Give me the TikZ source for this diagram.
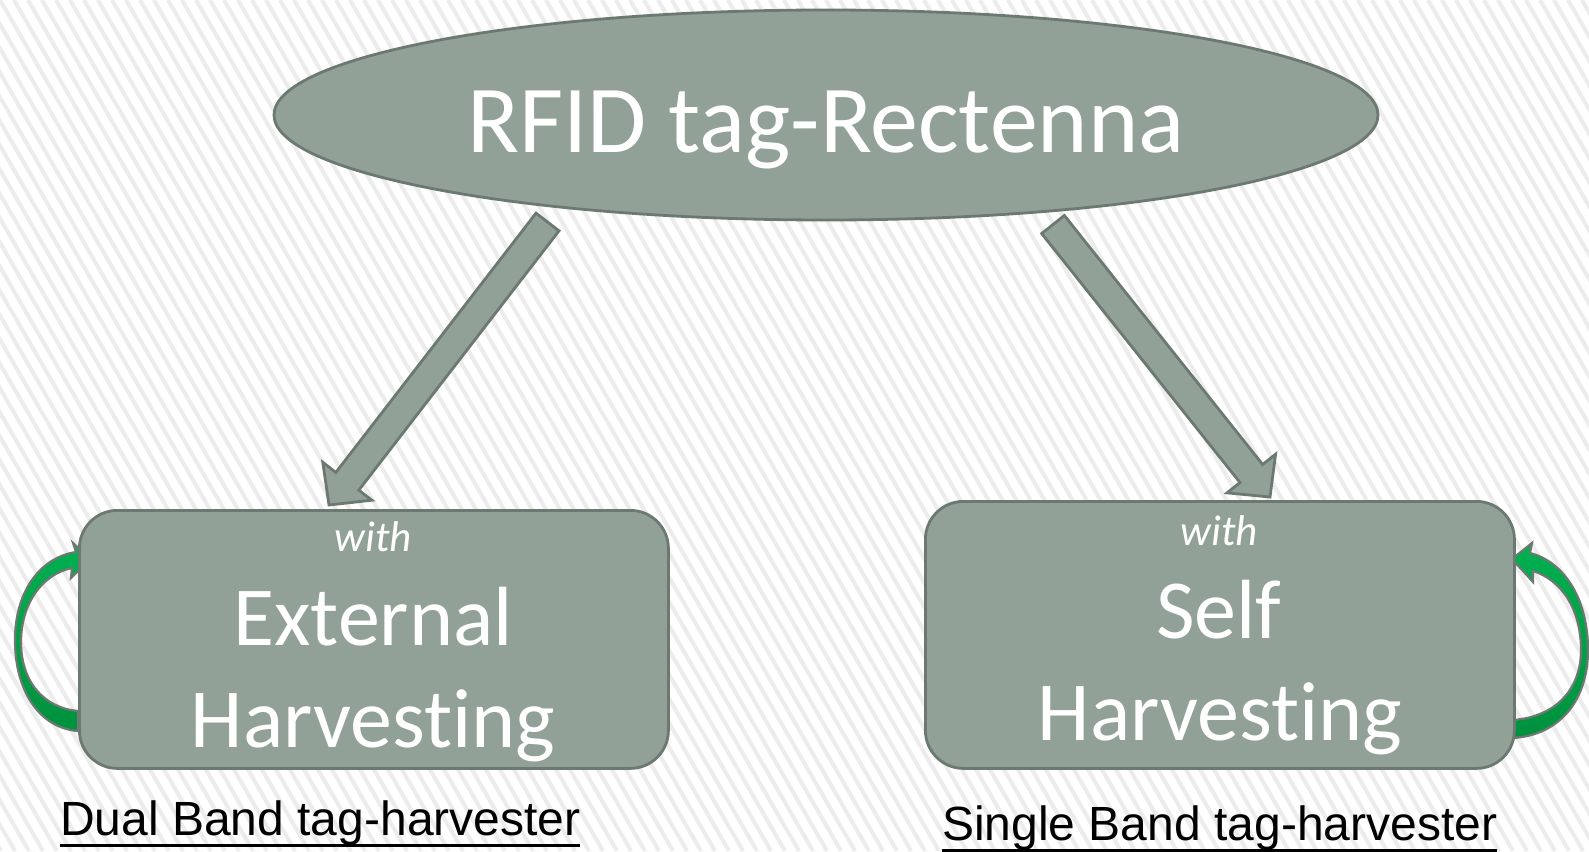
\documentclass[tikz,border=0pt]{standalone}
\usepackage{fontspec}
\setmainfont{Carlito}[Ligatures={NoCommon}]
\newfontfamily\arialf{Liberation Sans}
\usetikzlibrary{shapes.geometric,calc}
\definecolor{boxfill}{RGB}{146,161,151}
\definecolor{boxline}{RGB}{108,121,112}
\definecolor{stripecol}{RGB}{236,236,236}
\definecolor{glight}{RGB}{0,176,80}
\definecolor{gdark}{RGB}{0,145,62}
\newcommand\ulabel[1]{\setbox0\hbox{#1}\rlap{\rule[-11.5pt]{\wd0}{2.8pt}}\box0}
\newcommand\blockarr[2]{%
  \coordinate (hb) at ($(#2)!30pt!(#1)$);
  \draw[shapebox]
    ($(#1)!14.5pt!90:(#2)$) -- ($(hb)!14.5pt!90:(#2)$) -- ($(hb)!31pt!90:(#2)$)
    -- (#2) -- ($(hb)!31pt!-90:(#2)$) -- ($(hb)!14.5pt!-90:(#2)$)
    -- ($(#1)!14.5pt!-90:(#2)$) -- cycle;}
\begin{document}
\begin{tikzpicture}[x=1pt,y=-1pt,
  shapebox/.style={draw=boxline, fill=boxfill, line width=2.8pt},
  roundbox/.style={shapebox, rounded corners=38pt, anchor=north west, inner sep=0pt},
  curvearrow/.style={draw=boxline, line width=2.2pt, top color=glight, bottom color=gdark},
  wtxt/.style={text=white, inner sep=0pt, anchor=base},
  bigtxt/.style={wtxt, font=\fontsize{84}{100}\selectfont},
  withtxt/.style={wtxt, font=\fontsize{43}{50}\selectfont\itshape},
  labtxt/.style={inner sep=0pt, anchor=base west, text=black, font=\arialf\fontsize{48}{56}\selectfont}
]
\useasboundingbox (0,0) rectangle (1589,851);
\fill[white] (0,0) rectangle (1589,851);
\begin{scope}
  \clip (0,0) rectangle (1589,851);
  \foreach \i in {-38,...,116} \draw[stripecol, line width=4pt] (\i*14,0) -- ++(491,851);
\end{scope}

% curved green arrows (behind the boxes)
\draw[curvearrow] (78,731) .. controls (40,728) and (15,692) .. (15,640)
  .. controls (15,594) and (38,558) .. (76,552) -- (73,543) -- (90,559) -- (71,578) -- (72,568)
  .. controls (42,574) and (21,604) .. (21,642)
  .. controls (21,682) and (44,708) .. (78,711) -- cycle;
\draw[curvearrow] (1513,738) .. controls (1560,735) and (1588,700) .. (1588,650)
  .. controls (1588,600) and (1565,562) .. (1530,553) -- (1532,543) -- (1512,559) -- (1533,582) -- (1533,571)
  .. controls (1562,580) and (1581,610) .. (1581,650)
  .. controls (1581,690) and (1555,717) .. (1513,720) -- cycle;

% shapes
\node[shapebox, ellipse, minimum width=1104, minimum height=210, inner sep=0pt] (top) at (826,115) {};
\node[roundbox, minimum width=589, minimum height=258] (ext) at (78,509) {};
\node[roundbox, minimum width=589, minimum height=267] (self) at (924,500) {};

% block arrows
\coordinate (a1s) at (547.5,222);
\coordinate (a1e) at (329,505);
\coordinate (a2s) at (1053,224.5);
\coordinate (a2e) at (1270,497);
\blockarr{a1s}{a1e}
\blockarr{a2s}{a2e}

% texts
\node[wtxt, font=\fontsize{96}{110}\selectfont] (toptxt) at (826,152) {RFID tag-Rectenna};
\node[withtxt] (extw) at (373,551) {with};
\node[bigtxt] (ext1) at (373,645) {External};
\node[bigtxt] (ext2) at (373,747) {Harvesting};
\node[withtxt] (selfw) at (1219,545) {with};
\node[bigtxt] (self1) at (1219,638) {Self};
\node[bigtxt] (self2) at (1220,740) {Harvesting};
\node[labtxt] (lab1) at (60,835) {\ulabel{Dual Band tag-harvester}};
\node[labtxt] (lab2) at (942,840) {\ulabel{Single Band tag-harvester}};
\end{tikzpicture}
\end{document}
